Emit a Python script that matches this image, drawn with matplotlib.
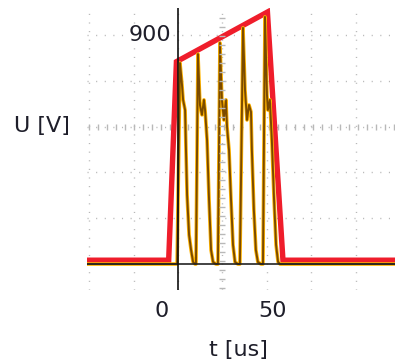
import numpy as np
import matplotlib
matplotlib.use("Agg")
import matplotlib.pyplot as plt

# red envelope (t in us, U in V)
env_t = [-35, 3.0, 6.5, 47.5, 54.5, 106]
env_u = [15, 15, 795, 990, 15, 15]

# oscillating voltage trace
sig_t = [-35, 6.8, 8.1, 9.0, 9.5, 10.4, 10.8, 11.3, 12.2, 13.1, 14.0, 14.9,
         15.3, 16.2, 17.1, 18.0, 18.9, 19.4, 20.3, 21.2, 22.1, 23.0, 24.3,
         25.2, 26.1, 27.0, 27.9, 28.8, 29.3, 30.2, 31.1, 32.0, 32.9, 34.2,
         35.1, 36.5, 37.4, 38.3, 39.2, 40.1, 40.5, 41.4, 42.3, 43.2, 44.6,
         45.5, 46.4, 47.3, 47.7, 48.6, 49.5, 50.5, 51.4, 52.3, 53.2, 106]
sig_u = [0, 0, 790, 704, 645, 605, 448, 271, 114, 55, 8, 0,
         0, 825, 625, 586, 645, 605, 487, 252, 55, 8, 0,
         0, 869, 645, 566, 645, 539, 448, 252, 75, 8, 0,
         0, 928, 684, 566, 625, 598, 448, 212, 55, 8, 0,
         0, 971, 664, 605, 645, 487, 252, 75, 8, 0, 0]

t_axis = 7.2
grid_t = [t_axis + 20 * k for k in range(-2, 5)]
grid_u = [180, 360, 540, 720, 900]

fig = plt.figure(figsize=(3.95, 3.62), dpi=100)
ax = fig.add_axes([0.2203, 0.1989, 0.7797, 0.779])
ax.set_xlim(-33.8, 105)
ax.set_ylim(-102, 1006)
for s in ax.spines.values():
    s.set_visible(False)

gcol = "#b8b8b8"
dots = (0, (0.8, 5.4))
for g in grid_t:
    ax.axvline(g, color=gcol, lw=1.0, ls=dots, zorder=1)
for g in grid_u:
    ax.axhline(g, color=gcol, lw=1.0, ls=dots, zorder=1)
# centre grid lines carry small dashes
yy = np.arange(-95, 1000, 35.4)
ax.plot([grid_t[3]] * len(yy), yy, ls="none", marker="_", ms=4, mew=1.0, color=gcol, zorder=4)
xx = np.arange(-33, 105, 4.05)
ax.plot(xx, [540] * len(xx), ls="none", marker="|", ms=4, mew=1.0, color=gcol, zorder=1)

ax.plot(env_t, env_u, color="#ef1d2b", lw=3.9, solid_joinstyle="miter", zorder=2)
ax.plot(sig_t, sig_u, color="#ffb400", lw=2.6, zorder=3)
ax.plot(sig_t, sig_u, color="#7a4a00", lw=1.4, zorder=3)

ax.axhline(0, color="#222222", lw=1.2, zorder=5)
ax.axvline(t_axis, color="#111111", lw=1.2, zorder=5)

txt = "#1e1e2a"
ax.set_xticks([0, 50])
ax.set_xticklabels(["0", "50"])
ax.set_yticks([])
ax.tick_params(axis="x", length=0, pad=8, labelsize=16, labelcolor=txt)
ax.text(t_axis - 3.2, 900, "900", ha="right", va="center", fontsize=16, color=txt,
        bbox=dict(facecolor="white", edgecolor="none", pad=0.5), zorder=6)
fig.text(42 / 395, 1 - 126 / 362, "U [V]", ha="center", va="center", fontsize=16, color=txt)
fig.text(238 / 395, 1 - 350 / 362, "t [us]", ha="center", va="center", fontsize=16, color=txt)

fig.savefig("out.png", dpi=100)
